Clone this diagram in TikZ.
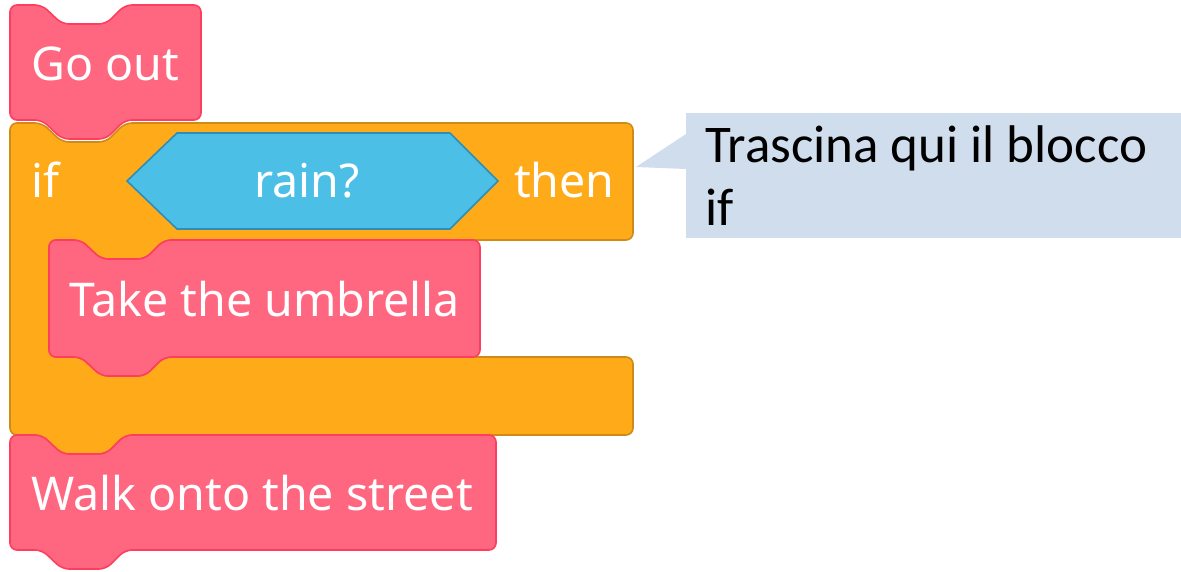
\documentclass[tikz,border=0pt]{standalone}
\usepackage{fontspec}
\newfontfamily\blockfont{Noto Sans}
\newfontfamily\notefont{Carlito}
\definecolor{pinkfill}{HTML}{FF6680}
\definecolor{pinkline}{HTML}{FF3D5E}
\definecolor{orangefill}{HTML}{FFAB19}
\definecolor{orangeline}{HTML}{CF8B17}
\definecolor{bluefill}{HTML}{4CBFE6}
\definecolor{blueline}{HTML}{2E8EB8}
\definecolor{notefill}{HTML}{D0DDED}
% stack block with a notch on top and a tab below: style, left, top, right, bottom
\newcommand\stackblock[5]{%
  \path[#1] (#2,{(#3+#5)/2}) -- (#2,#3) -- ({#2+32},#3) -- ({#2+52},{#3+19})
    -- ({#2+96},{#3+19}) -- ({#2+115},#3) -- (#4,#3) -- (#4,#5)
    -- ({#2+115},#5) -- ({#2+96},{#5+19}) -- ({#2+52},{#5+19}) -- ({#2+32},#5)
    -- (#2,#5) -- cycle;}
\tikzset{
  pinkblock/.style={fill=pinkfill, draw=pinkline, line width=1.6pt, rounded corners=7pt},
  orangeblock/.style={fill=orangefill, draw=orangeline, line width=1.6pt, rounded corners=7pt},
  boolblock/.style={fill=bluefill, draw=blueline, line width=1.6pt},
  blocktext/.style={text=white, inner sep=0pt, anchor=base west,
    font=\blockfont\fontsize{46.5}{54}\selectfont},
  notetext/.style={text=black, inner sep=0pt, anchor=base west,
    font=\notefont\fontsize{53}{63}\selectfont},
}
\begin{document}
\begin{tikzpicture}[x=1pt, y=-1pt]
\useasboundingbox (0,0) rectangle (1181,571);

% if-then C block
\path[orangeblock] (10,280) -- (10,123) -- (42,123) -- (62,142) -- (106,142) -- (125,123)
  -- (633,123) -- (633,240) -- (164,240) -- (145,259) -- (101,259) -- (81,240)
  -- (49,240) -- (49,357) -- (81,357) -- (101,376) -- (145,376) -- (164,357)
  -- (633,357) -- (633,435) -- (125,435) -- (106,454) -- (62,454) -- (42,435)
  -- (10,435) -- cycle;

% condition slot
\path[boolblock] (127,181) -- (177,133) -- (450,133) -- (498,181) -- (450,229)
  -- (177,229) -- cycle;

% stacked command blocks
\stackblock{pinkblock}{10}{5}{201}{120}
\stackblock{pinkblock}{49}{240}{480}{357}
\stackblock{pinkblock}{10}{435}{496}{550}

% block labels
\node[blocktext] (goout) at (31,80) {Go out};
\node[blocktext] (if) at (31,197) {if};
\node[blocktext] (rain) at (254,197) {rain?};
\node[blocktext] (then) at (514,197) {then};
\node[blocktext] (umbrella) at (69,316) {Take the umbrella};
\node[blocktext] (walk) at (31,510) {Walk onto the street};

% callout
\node[fill=notefill, inner sep=0pt, minimum width=495pt, minimum height=125pt,
  anchor=north west] (note) at (686,113) {};
\fill[notefill] (note.west |- 0,134) -- (636,167) -- (note.west |- 0,169) -- cycle;
\node[notetext] (line1) at (705,162) {Trascina qui il blocco};
\node[notetext] (line2) at (705,225) {if};
\end{tikzpicture}
\end{document}
